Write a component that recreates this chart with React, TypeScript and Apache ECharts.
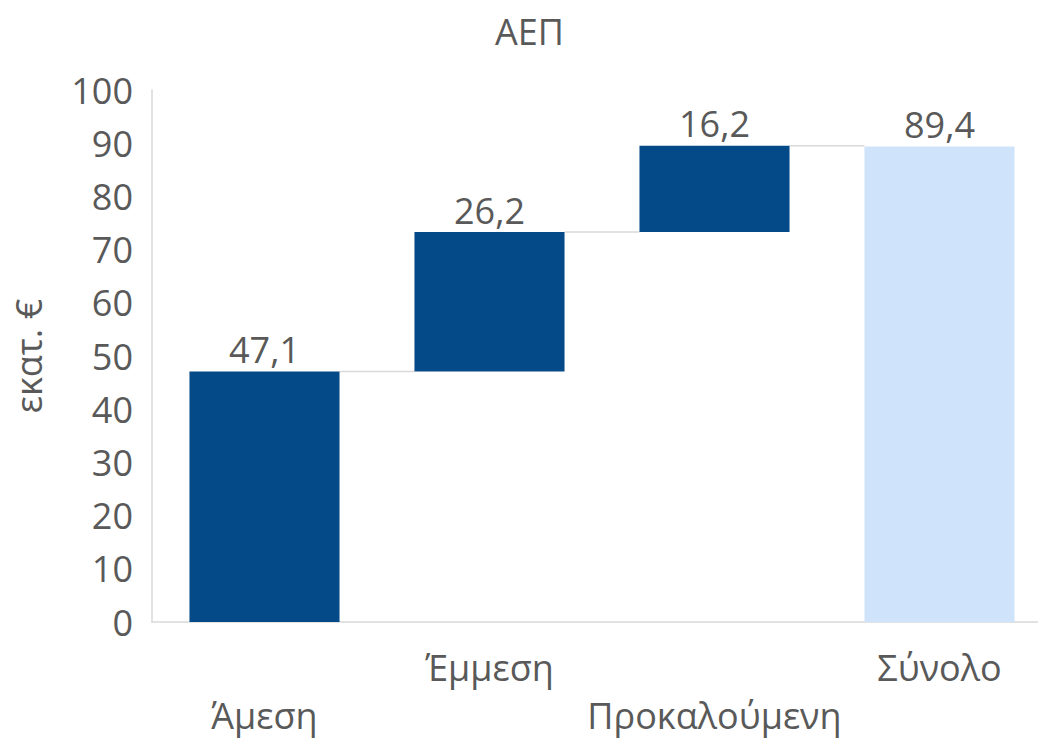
import React, { useEffect, useRef } from "react";
import * as echarts from "echarts";

const categories = ["Άμεση", "Έμμεση", "Προκαλούμενη", "Σύνολο"];
const values = [47.1, 26.2, 16.2, 89.4];
const isTotal = [false, false, false, true];
const chartTitle = "ΑΕΠ";
const yAxisName = "εκατ. €";

const FONT = "'Open Sans', sans-serif";
const TEXT = "#595959";
const DARK = "#044A89";
const LIGHT = "#CFE3FA";
const GREY = "#D9D9D9";

export default function App() {
  const ref = useRef<HTMLDivElement>(null);
  useEffect(() => {
    if (!ref.current) return;
    const chart = echarts.init(ref.current, null, { renderer: "svg" });

    const bases: number[] = [];
    const tops: number[] = [];
    let cum = 0;
    values.forEach((v, i) => {
      if (isTotal[i]) {
        bases.push(0);
        tops.push(v);
        cum = v;
      } else {
        bases.push(cum);
        cum += v;
        tops.push(cum);
      }
    });
    const connectors = tops.slice(0, -1).map((t, i) => [i, t]);

    const labelStyle = { fontFamily: FONT, fontSize: 36, color: TEXT, lineHeight: 40 };

    chart.setOption({
      animation: false,
      textStyle: { fontFamily: FONT },
      title: {
        text: chartTitle,
        left: 490,
        top: 8,
        textStyle: { fontFamily: FONT, fontSize: 36, fontWeight: "normal", color: TEXT },
      },
      grid: {
        left: 152,
        top: 90,
        width: 900,
        height: 532,
        containLabel: false,
        outerBoundsMode: "none",
      },
      xAxis: {
        type: "category",
        data: categories,
        axisLine: { show: true, lineStyle: { color: GREY, width: 1.5 } },
        axisTick: { show: false },
        axisLabel: {
          interval: 0,
          margin: 25,
          fontFamily: FONT,
          fontSize: 36,
          color: TEXT,
          lineHeight: 40,
          formatter: (v: string, i: number) =>
            i % 2 === 0 ? `{gap| }\n{lab|${v}}` : `{lab|${v}}`,
          rich: {
            lab: { ...labelStyle },
            gap: { fontFamily: FONT, fontSize: 10, lineHeight: 48 },
          },
        },
      },
      yAxis: {
        type: "value",
        min: 0,
        max: 100,
        interval: 10,
        name: yAxisName,
        nameLocation: "middle",
        nameGap: 106,
        nameRotate: 90,
        nameTextStyle: { fontFamily: FONT, fontSize: 36, color: TEXT },
        axisLine: { show: true, lineStyle: { color: GREY, width: 1.5 } },
        axisTick: { show: false },
        splitLine: { show: false },
        axisLabel: { margin: 19, fontFamily: FONT, fontSize: 36, color: TEXT },
      },
      series: [
        {
          type: "bar",
          stack: "w",
          data: bases,
          barCategoryGap: "33.3%",
          itemStyle: { color: "transparent" },
          silent: true,
        },
        {
          type: "bar",
          stack: "w",
          barCategoryGap: "33.3%",
          data: values.map((v, i) => ({
            value: v,
            itemStyle: { color: isTotal[i] ? LIGHT : DARK },
          })),
          label: {
            show: true,
            position: "top",
            distance: 4,
            fontFamily: FONT,
            fontSize: 36,
            color: TEXT,
            formatter: (p: any) => String(p.value).replace(".", ","),
          },
        },
        {
          type: "custom",
          data: connectors,
          z: 1,
          renderItem: (params: any, api: any) => {
            const i = api.value(0);
            const y = api.value(1);
            const p1 = api.coord([i, y]);
            const p2 = api.coord([i + 1, y]);
            const bw = api.size([1, 0])[0] * (2 / 3);
            return {
              type: "line",
              shape: { x1: p1[0] + bw / 2, y1: p1[1], x2: p2[0] - bw / 2, y2: p2[1] },
              style: { stroke: GREY, lineWidth: 1.5 },
            };
          },
        },
      ],
    });
    return () => chart.dispose();
  }, []);
  return (
    <div
      ref={ref}
      style={{ position: "absolute", left: 0, top: 0, width: 1038, height: 741, background: "#fff" }}
    />
  );
}
